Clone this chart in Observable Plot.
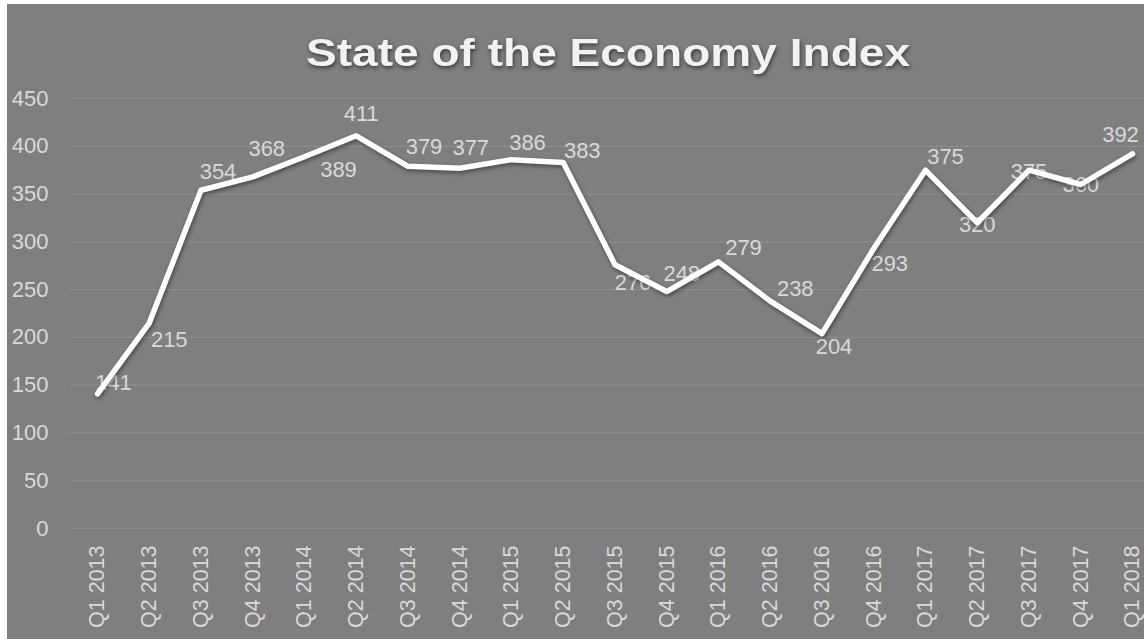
<!DOCTYPE html>
<html>
<head>
<meta charset="utf-8">
<script src="https://cdn.jsdelivr.net/npm/d3@7"></script>
<script src="https://cdn.jsdelivr.net/npm/@observablehq/plot@0.6"></script>
<style>
  html, body { margin: 0; padding: 0; background: #ffffff; }
  #wrap { position: absolute; left: 7px; top: 4px; width: 1137px; height: 635px; background: #7f7f7f; overflow: hidden; font-family: "Liberation Sans", Arial, sans-serif; }
  #chart { position: absolute; left: 0; top: 0; }
  #title { position: absolute; left: 0; top: 0; }
  #title text { filter: drop-shadow(1px 2px 2px rgba(0,0,0,0.55)); }
  #chart g[aria-label="line"] path { filter: drop-shadow(1px 2px 2px rgba(0,0,0,0.45)); }
</style>
</head>
<body>
<div id="wrap">
  <div id="chart"></div>
  <svg id="title" width="1137" height="90">
    <text x="601" y="62" text-anchor="middle" textLength="604" lengthAdjust="spacingAndGlyphs"
      font-family="Liberation Sans, Arial, sans-serif" font-weight="bold" font-size="39" fill="#f2f2f2">State of the Economy Index</text>
  </svg>
</div>
<script>
// ---- data ----
const quarters = ["Q1 2013","Q2 2013","Q3 2013","Q4 2013","Q1 2014","Q2 2014","Q3 2014","Q4 2014",
  "Q1 2015","Q2 2015","Q3 2015","Q4 2015","Q1 2016","Q2 2016","Q3 2016","Q4 2016",
  "Q1 2017","Q2 2017","Q3 2017","Q4 2017","Q1 2018"];
const indexValues = [141,215,354,368,389,411,379,377,386,383,276,248,279,238,204,293,375,320,375,360,392];
const yTicks = [0,50,100,150,200,250,300,350,400,450];

// ---- label placement (style: pixel nudges of each data label) ----
const labelNudge = [[16,-11],[20,17],[17,-18],[14,-28],[34,13],[5,-22],[16,-19],[11,-20],[16,-17],[19,-12],
  [18,18],[15,-18],[25,-14],[25,-12],[12,13],[16,15],[20,-13],[0,2],[0,2],[0,0],[-12,-19]];

const table = quarters.map((q, i) => ({quarter: q, value: indexValues[i]}));

const textColor = "#d9d9d9";

const labelMarks = table.map((d, i) => Plot.text([d], {
  x: "quarter", y: "value", text: d => String(d.value),
  dx: labelNudge[i][0], dy: labelNudge[i][1],
  fill: textColor, fontSize: 22, textAnchor: "middle", lineAnchor: "middle"
}));

const chart = Plot.plot({
  width: 1137,
  height: 635,
  marginTop: 94,
  marginBottom: 111,
  marginLeft: 63,
  marginRight: 0,
  style: { background: "transparent", fontFamily: "Liberation Sans, Arial, sans-serif", color: textColor, overflow: "visible" },
  x: { type: "point", domain: quarters, range: [90, 1125], padding: 0, round: false },
  y: { domain: [0, 450], ticks: yTicks },
  marks: [
    Plot.ruleY(yTicks, { stroke: "#8d8d8d", strokeWidth: 1.2 }),
    Plot.axisY({ ticks: yTicks, tickSize: 0, tickPadding: 22, fontSize: 22, fill: textColor, label: null }),
    Plot.axisX({ tickSize: 0, tickPadding: 17, tickRotate: -90, fontSize: 21.5, fill: textColor, label: null }),
    ...labelMarks,
    Plot.line(table, { x: "quarter", y: "value", stroke: "#ffffff", strokeWidth: 5.5, strokeLinejoin: "round", strokeLinecap: "round" })
  ]
});
document.getElementById("chart").appendChild(chart);
</script>
</body>
</html>
